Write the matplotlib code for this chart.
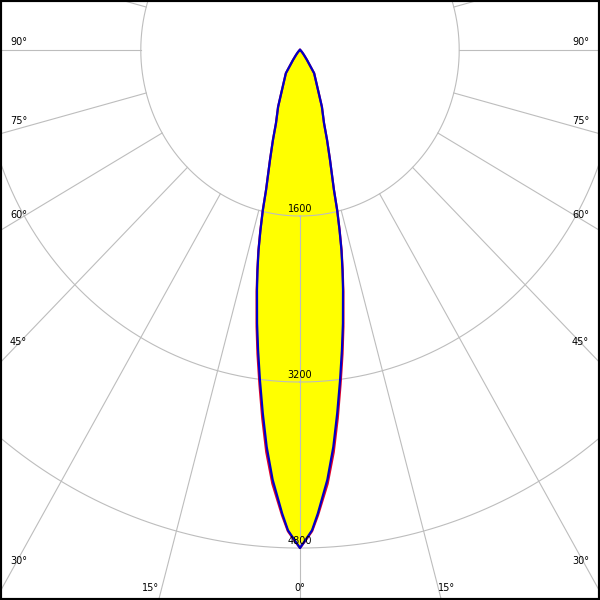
import numpy as np
import matplotlib
matplotlib.use("Agg")
import matplotlib.pyplot as plt

# ---- data (candela values) ----
angles = [0, 0.7, 1.5, 2.3, 3.8, 5.0, 6.1, 7.2, 8.3, 9.3, 10.6, 11.4, 12.2, 12.9,
          13.6, 14.2, 15.9, 17.4, 18.9, 21.9, 25.2, 32.4, 36.1, 39.8, 45, 50, 60,
          70, 80, 90]
c0_c180 = [4800, 4720, 4630, 4470, 4150, 3840, 3520, 3210, 2920, 2670, 2350, 2160,
           1970, 1780, 1590, 1390, 1100, 910, 745, 590, 425, 265, 120, 63, 30, 15,
           5, 0, 0, 0]
c90_c270 = [4800, 4725, 4640, 4490, 4190, 3890, 3570, 3250, 2960, 2700, 2370, 2170,
            1980, 1785, 1590, 1390, 1100, 910, 745, 590, 425, 265, 120, 63, 30, 15,
            5, 0, 0, 0]
ring_values = [1600, 3200, 4800, 6400]
ring_labels = ["1600", "3200", "4800"]
spoke_angles = list(range(0, 360, 15))
side_labels = ["90°", "75°", "60°", "45°", "30°"]
bottom_labels = ["15°", "0°", "15°"]

# ---- figure ----
W = H = 600
fig = plt.figure(figsize=(6, 6), dpi=100)
ax = fig.add_axes([0, 0, 1, 1])
ax.set_xlim(-3015, 3015)
ax.set_ylim(-5301, 482)
ax.set_xticks([])
ax.set_yticks([])
for s in ax.spines.values():
    s.set_linewidth(3)
    s.set_color("black")


def polar_xy(theta_deg, r):
    t = np.radians(np.asarray(theta_deg, dtype=float))
    r = np.asarray(r, dtype=float)
    return r * np.sin(t), -r * np.cos(t)


def full_curve(vals):
    a = np.array(angles, dtype=float)
    v = np.array(vals, dtype=float)
    th = np.concatenate([-a[::-1], a[1:]])
    rr = np.concatenate([v[::-1], v[1:]])
    return polar_xy(th, rr)


grid_col = "#BDBDBD"
# fill
xf, yf = full_curve(c0_c180)
ax.fill(xf, yf, color="#FFFF00", zorder=1, lw=0)
xr, yr = full_curve(c90_c270)
ax.fill(xr, yr, color="#FFFF00", zorder=1, lw=0)

# grid rings
tt = np.linspace(0, 360, 721)
for rv in ring_values:
    gx, gy = polar_xy(tt, np.full_like(tt, rv))
    ax.plot(gx, gy, color=grid_col, lw=0.8, zorder=2)
# spokes from first ring outwards
for a in spoke_angles:
    sx, sy = polar_xy([a, a], [ring_values[0], 9000])
    ax.plot(sx, sy, color=grid_col, lw=0.8, zorder=2)

# curves
ax.plot(xr, yr, color="#E0002A", lw=1.6, zorder=3, solid_joinstyle="round")
ax.plot(xf, yf, color="#0000C8", lw=1.6, zorder=4, solid_joinstyle="round")

# ring labels
for rv, lab in zip(ring_values, ring_labels):
    ax.text(0, -rv + 67, lab, ha="center", va="center", fontsize=7, color="black", zorder=5)

# angle labels (pixel layout)
side_y = [42, 121, 215, 342, 561]
for lab, y in zip(side_labels, side_y):
    ax.text(10 / W, 1 - y / H, lab, transform=ax.transAxes, ha="left", va="center",
            fontsize=7, color="black")
    ax.text(589 / W, 1 - y / H, lab, transform=ax.transAxes, ha="right", va="center",
            fontsize=7, color="black")
bottom_x = [151, 300, 447]
for lab, x in zip(bottom_labels, bottom_x):
    ax.text(x / W, 1 - 588 / H, lab, transform=ax.transAxes, ha="center", va="center",
            fontsize=7, color="black")

fig.savefig("out.png", dpi=100)
